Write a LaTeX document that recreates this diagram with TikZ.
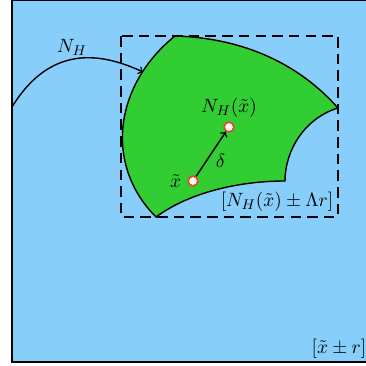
\documentclass[tikz,border=0pt]{standalone}
\usepackage{amsmath,amssymb}
\usepackage{xcolor}
\usepackage{tikz}
\usetikzlibrary{positioning}

\definecolor{skyblue}{HTML}{87CEFA}
\definecolor{limegreen}{HTML}{32CD32}
\definecolor{ptorange}{HTML}{E8461E}

\begin{document}
\begin{tikzpicture}[
                x=0.02cm, y=-0.02cm,
                every node/.style={align=center, font=\fontsize{11}{13}\selectfont},
                pt node/.style={draw=ptorange, fill=white, circle, line width=0.9pt, inner sep=0pt, minimum size=5.5pt},
                edge/.style={->, thick},
                box/.style={draw, thick, dash pattern=on 6pt off 3.5pt}
            ]
            \useasboundingbox (0,0) rectangle (366,366);

            % Background
            \draw[fill=skyblue, thick] (12,0.5) rectangle (372,362);
            \node[anchor=south east, inner sep=2pt] (ball) at (370,362) {$[\tilde{x} \pm r]$};

            % Region
            \coordinate (A) at (175,36);
            \coordinate (B) at (338,108);
            \coordinate (C) at (285,181);
            \coordinate (D) at (156,217);
            \draw[fill=limegreen, thick] (A) .. controls (245,38) and (300,65) .. (B)
                .. controls (305,118) and (285,150) .. (C)
                .. controls (240,181) and (190,192) .. (D)
                .. controls (104,165) and (114,85) .. (A) -- cycle;

            % Box
            \draw[box] (121,36) rectangle (338,217);
            \node (boxlabel) at (277,202) {$[N_H(\tilde{x}) \pm \Lambda r]$};

            % Map
            \coordinate (start) at (12,107);
            \coordinate (hit) at (143,72);
            \draw[edge] (start) .. controls (50,45) and (100,52) .. (hit);
            \node (NH) at (72,47) {$N_H$};

            % Nodes
            \node[pt node] (x) at (193,181) {};
            \node[pt node] (Nx) at (229,127) {};
            \node[left=0pt of x] (xlabel) {$\tilde{x}$};
            \node[above=-1pt of Nx] (Nxlabel) {$N_H(\tilde{x})$};

            % Edges
            \draw[edge] (x) -- node[midway, right, xshift=-1pt, yshift=-4pt] {$\delta$} (Nx);

\end{tikzpicture}
\end{document}
